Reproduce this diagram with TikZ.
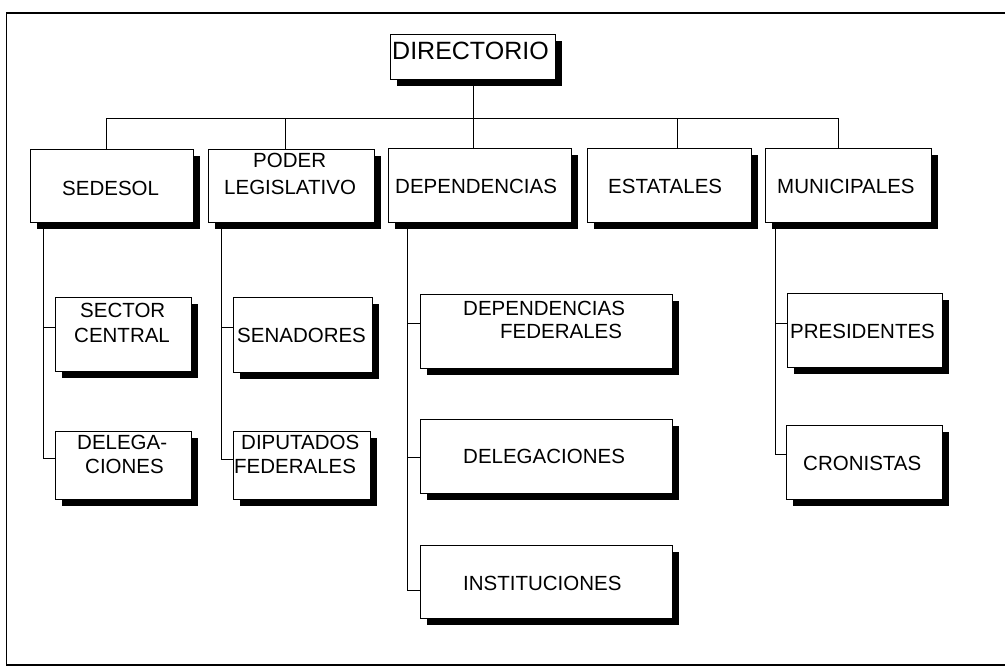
\documentclass[tikz,border=0pt]{standalone}
\usepackage{fontspec}
\setmainfont{Liberation Sans}
\usetikzlibrary{shadows}
\newcommand\obox[5]{\node[box,minimum width=#4pt,minimum height=#5pt] (#1) at (#2,#3) {};}
\newcommand\otxt[4]{\node[lbl] (#1) at (#2,#3) {#4};}
\begin{document}
\begin{tikzpicture}[x=1pt,y=-1pt,
  box/.style={draw=black, line width=0.9pt, fill=white, anchor=north west, inner sep=0pt,
    drop shadow={shadow xshift=7pt, shadow yshift=-7pt, fill=black, opacity=1}},
  lbl/.style={anchor=base west, inner sep=0pt, font=\fontsize{20.5}{24}\selectfont},
  conn/.style={draw=black, line width=0.9pt},
  frame/.style={draw=black, line width=1.2pt}]
\useasboundingbox (0,0) rectangle (1005,667);
\draw[frame] (1005,13) -- (6.5,13) -- (6.5,665) -- (1005,665);
% boxes
\obox{directorio}{390}{34}{165}{45}
\obox{sedesol}{30}{149}{163}{73}
\obox{poder}{208}{149}{166}{73}
\obox{dependencias}{388}{148}{183}{74}
\obox{estatales}{587}{148}{164}{74}
\obox{municipales}{765}{148}{166}{74}
\obox{sector}{55}{297}{136}{74}
\obox{delega}{55}{431}{136}{68}
\obox{senadores}{233}{297}{139}{75}
\obox{diputados}{233}{431}{137}{68}
\obox{depfed}{420}{294}{252}{74}
\obox{delegaciones}{420}{419}{252}{74}
\obox{instituciones}{420}{545}{252}{73}
\obox{presidentes}{787}{293}{155}{74}
\obox{cronistas}{786}{425}{156}{74}
% texts
\node[lbl, font=\fontsize{25}{28}\selectfont] (t-dir) at (392,59) {DIRECTORIO};
\otxt{t-sed}{62}{195}{SEDESOL}
\otxt{t-pod1}{253}{167}{PODER}
\otxt{t-pod2}{224}{194}{LEGISLATIVO}
\otxt{t-dep}{395}{193}{DEPENDENCIAS}
\otxt{t-est}{608}{193}{ESTATALES}
\otxt{t-mun}{777}{193}{MUNICIPALES}
\otxt{t-sec1}{80}{317}{SECTOR}
\otxt{t-sec2}{74}{342}{CENTRAL}
\otxt{t-del1}{77}{449}{DELEGA-}
\otxt{t-del2}{85}{473}{CIONES}
\otxt{t-sen}{237}{342}{SENADORES}
\otxt{t-dip1}{241}{449}{DIPUTADOS}
\otxt{t-dip2}{234}{473}{FEDERALES}
\otxt{t-df1}{463}{315}{DEPENDENCIAS}
\otxt{t-df2}{500}{338}{FEDERALES}
\otxt{t-dels}{463}{463}{DELEGACIONES}
\otxt{t-ins}{463}{590}{INSTITUCIONES}
\otxt{t-pre}{790}{338}{PRESIDENTES}
\otxt{t-cro}{803}{470}{CRONISTAS}
% connectors
\coordinate (dp1) at (106,118);
\coordinate (dp2) at (285,118);
\coordinate (dp4) at (677,118);
\coordinate (dp5) at (838,118);
\draw[conn] (dp1) -- (dp5);
\draw[conn] (directorio.south) -- (directorio.south |- dependencias.north);
\draw[conn] (dp1) -- (dp1 |- sedesol.north);
\draw[conn] (dp2) -- (dp2 |- poder.north);
\draw[conn] (dp4) -- (dp4 |- estatales.north);
\draw[conn] (dp5) -- (dp5 |- municipales.north);
\coordinate (tr1) at (43,222);
\coordinate (tr2) at (221,222);
\coordinate (tr3) at (407,222);
\coordinate (tr4) at (775,222);
\draw[conn] (tr1) |- ([yshift=7pt]sector.west);
\draw[conn] (tr1) |- ([yshift=7pt]delega.west);
\draw[conn] (tr2) |- ([yshift=7.5pt]senadores.west);
\draw[conn] (tr2) |- ([yshift=6pt]diputados.west);
\draw[conn] (tr3) |- ([yshift=8pt]depfed.west);
\draw[conn] (tr3) |- ([yshift=-1pt]delegaciones.west);
\draw[conn] (tr3) |- ([yshift=-8.5pt]instituciones.west);
\draw[conn] (tr4) |- ([yshift=7pt]presidentes.west);
\draw[conn] (tr4) |- ([yshift=8pt]cronistas.west);
\end{tikzpicture}
\end{document}
